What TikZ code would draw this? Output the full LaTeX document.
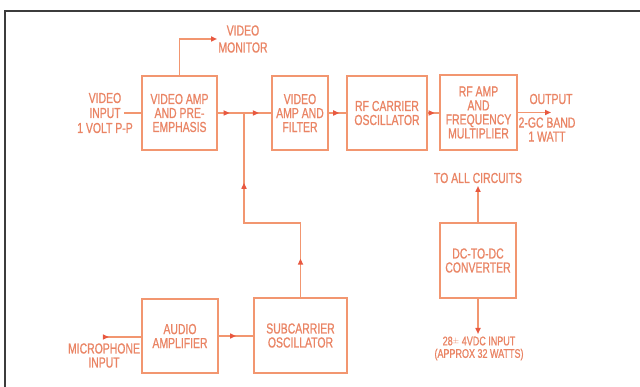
\documentclass[tikz,border=0pt]{standalone}
\usepackage{fontspec}
\setmainfont{Liberation Sans}[FakeStretch=0.72,FakeBold=0.8]
\usetikzlibrary{arrows.meta,decorations.markings}
\definecolor{linec}{RGB}{242,150,112}
\definecolor{txtc}{RGB}{234,132,100}
\definecolor{arrc}{RGB}{232,88,64}
\definecolor{framec}{RGB}{60,60,60}
\tikzset{
  ln/.style={draw=linec, line width=1.7pt},
  box/.style={ln, rectangle, inner sep=0pt, align=center, text=txtc,
    font={\fontsize{14.5}{14}\selectfont}},
  lbl/.style={text=txtc, align=center, inner sep=0pt,
    font={\fontsize{14.5}{14}\selectfont}},
  arw/.style={postaction={decorate}, decoration={markings,
    mark=at position #1 with {\arrow[arrc]{Triangle[length=6pt,width=5pt]}}}},
  arwtwo/.style 2 args={postaction={decorate}, decoration={markings,
    mark=at position #1 with {\arrow[arrc]{Triangle[length=6pt,width=5pt]}},
    mark=at position #2 with {\arrow[arrc]{Triangle[length=6pt,width=5pt]}}}},
  tipend/.style={-{Triangle[length=6pt,width=5pt,color=arrc]}}
}
\begin{document}
\begin{tikzpicture}[x=1pt,y=-1pt]
\useasboundingbox[fill=white] (0,0) rectangle (640,387);
% frame
\draw[framec, line width=1.6pt] (640,11) -- (5,11) -- (5,387);

% boxes
\node[box, minimum width=75pt, minimum height=74pt] (vamp) at (179.5,113)
  {VIDEO AMP\\AND PRE-\\EMPHASIS};
\node[box, minimum width=56pt, minimum height=74pt] (filt) at (300,113)
  {VIDEO\\AMP AND\\FILTER};
\node[box, minimum width=80pt, minimum height=74pt] (rfosc) at (387,113)
  {RF CARRIER\\OSCILLATOR};
\node[box, minimum width=77pt, minimum height=75pt] (rfamp) at (478.5,112.5)
  {RF AMP\\AND\\FREQUENCY\\MULTIPLIER};
\node[box, minimum width=76pt, minimum height=75pt] (dc) at (478,260.5)
  {DC-TO-DC\\CONVERTER};
\node[box, minimum width=76pt, minimum height=74pt] (aud) at (180,336)
  {AUDIO\\AMPLIFIER};
\node[box, minimum width=93pt, minimum height=75pt] (sub) at (300.5,335.5)
  {SUBCARRIER\\OSCILLATOR};

% labels
\node[lbl, font={\fontsize{14.5}{15}\selectfont}] (vinlbl) at (105,113) {VIDEO\\INPUT\\1 VOLT P-P};
\node[lbl, font={\fontsize{14.5}{17}\selectfont}] (monlbl) at (243,39) {VIDEO\\MONITOR};
\node[lbl, anchor=base] (outlbl) at (551,104) {OUTPUT};
\node[lbl] (bandlbl) at (547,129.5) {2-GC BAND\\1 WATT};
\node[lbl] (alllbl) at (478,178) {TO ALL CIRCUITS};
\node[lbl, font={\fontsize{12.5}{12.5}\selectfont}] (inlbl) at (479,348.5) {28\raisebox{0.35ex}{\fontsize{8}{8}\selectfont$\pm$} 4VDC INPUT\\(APPROX 32 WATTS)};
\node[lbl] (miclbl) at (104,355.5) {MICROPHONE\\INPUT};

% coordinates
\coordinate (vin) at (124,113);
\coordinate (mon) at (217,39);
\coordinate (j) at (244,113);
\coordinate (k) at (244,223);
\coordinate (out) at (551,112.5);
\coordinate (all) at (478,186);
\coordinate (pin) at (478,334);
\coordinate (mic) at (104,337);

% connectors
\draw[ln] (vin) -- (vamp.west);
\draw[ln, tipend] (vamp.north) |- (mon);
\draw[ln, arw=0.45] (vamp.east) -- (j);
\draw[ln, arw=0.55] (j) -- (filt.west);
\draw[ln, arwtwo={0.16}{0.71}] (sub.north) |- (k) -- (j);
\draw[ln, arw=0.6] (filt.east |- rfosc.west) -- (rfosc.west);
\draw[ln, arw=0.6] (rfosc.east) -- (rfamp.west |- rfosc.east);
\draw[ln, tipend] (rfamp.east) -- (out);
\draw[ln, tipend] (dc.north) -- (all);
\draw[ln, tipend] (dc.south) -- (pin);
\draw[ln, arw=0.13] (mic) -- (aud.west |- mic);
\draw[ln, arw=0.5] (aud.east) -- (aud.east -| sub.west);
\end{tikzpicture}
\end{document}
